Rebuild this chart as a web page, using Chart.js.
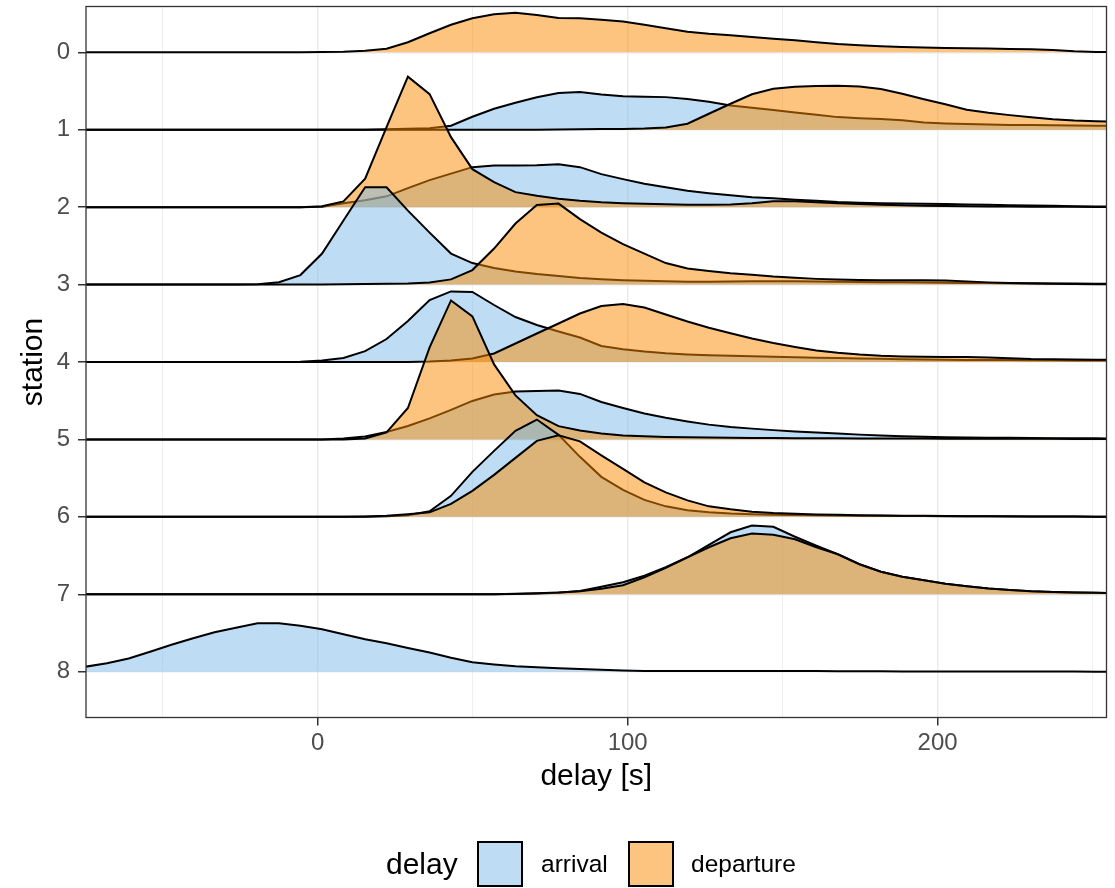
<!DOCTYPE html>
<html>
<head>
<meta charset="utf-8">
<title>delay ridges</title>
<script src="https://cdn.jsdelivr.net/npm/chart.js@4.4.1/dist/chart.umd.min.js"></script>
<style>
  body { margin: 0; background: #fff; }
  #wrap { position: relative; width: 1115px; height: 888px; font-family: "Liberation Sans", Arial, sans-serif; }
  #myChart { position: absolute; left: 0; top: 0; }
  .lg { position: absolute; top: 841px; height: 46px; line-height: 46px; white-space: nowrap; color: #000; }
  .lg-title { font-size: 30px; }
  .lg-text { font-size: 24.5px; }
  .lg-key { width: 46px; box-sizing: border-box; border: 2px solid #000; background: #fff; }
  .lg-key span { display: block; width: 100%; height: 100%; }
</style>
</head>
<body>
<div id="wrap">
  <canvas id="myChart" width="1115" height="888"></canvas>
  <div id="legend"></div>
</div>
<script>
// density grid (delay in s), shared by every ridge
var xGrid = [-74.9, -68.0, -61.0, -54.1, -47.2, -40.2, -33.3, -26.4, -19.4, -12.5, -5.6, 1.4, 8.3, 15.3, 22.2, 29.1, 36.1, 43.0, 49.9, 56.9, 63.8, 70.7, 77.7, 84.6, 91.5, 98.5, 105.4, 112.3, 119.3, 126.2, 133.2, 140.1, 147.0, 154.0, 160.9, 167.8, 174.8, 181.7, 188.6, 195.6, 202.5, 209.4, 216.4, 223.3, 230.2, 237.2, 244.1, 251.0, 258.0]

// relative density per station (arrival / departure)
var dep0 = [0, 0, 0, 0, 0, 0, 0, 0, 0, 0, 0, 0.3, 0.6, 1.5, 3.5, 10, 19, 27.5, 34, 38, 39.6, 37.3, 34.2, 34, 32.5, 30.8, 27.5, 24, 20.5, 18.5, 17, 15.2, 13.5, 12, 10, 8.2, 7, 6, 5.3, 4.8, 4.4, 4, 3.8, 3.3, 3, 2.2, 1, 0.3, 0.2]
var arr1 = [0, 0, 0, 0, 0, 0, 0, 0, 0, 0, 0, 0, 0, 0, 0.5, 1, 1.5, 4, 13, 21, 27, 32.5, 36.8, 37.7, 35.2, 33.5, 33, 32.6, 30.8, 28, 24.3, 22, 19.8, 17.2, 15, 12.6, 11.5, 10.8, 9.5, 7.3, 6.3, 5.7, 5.2, 4.8, 4.6, 4.4, 4.2, 4, 3.9]
var dep1 = [0, 0, 0, 0, 0, 0, 0, 0, 0, 0, 0, 0, 0, 0, 0, 0, 0, 0, 0, 0, 0, 0, 0.3, 0.5, 0.6, 0.8, 1.2, 2.2, 6, 16, 26, 35.5, 41, 43, 43.8, 44, 43.3, 40.8, 36, 30.5, 25.5, 20, 17, 14.6, 12.5, 10.5, 9.2, 8.5, 8]
var arr2 = [0, 0, 0, 0, 0, 0, 0, 0, 0, 0, 0, 0.5, 4, 7, 10.8, 19, 27, 33.5, 40, 41.6, 41.6, 42, 43, 40, 33, 28, 23.5, 19.8, 16.3, 14, 12, 10, 8.8, 7.5, 6.5, 5.2, 4.4, 4, 3.7, 3.4, 3.1, 2.7, 2.3, 2, 1.6, 1.3, 1, 0.7, 0.5]
var dep2 = [0, 0, 0, 0, 0, 0, 0, 0, 0, 0, 0, 0.8, 5.8, 28.5, 80, 130.5, 113, 70, 38, 25, 15, 11.5, 8.5, 6.5, 5, 4, 3.3, 2.8, 2.4, 2.3, 2.6, 4, 6, 6, 5, 4, 3.2, 2.4, 1.8, 1.4, 1.1, 0.9, 0.7, 0.6, 0.5, 0.4, 0.3, 0.2, 0.1]
var arr3 = [0, 0, 0, 0, 0, 0, 0, 0, 0.3, 2.3, 9.5, 31, 64, 97.3, 97.3, 74, 52, 31, 21.5, 16.5, 13, 10.5, 8.5, 6.5, 5.3, 4.4, 3.8, 3.2, 2.8, 2.8, 3, 3.3, 3.3, 3.2, 3, 2.8, 2.6, 2.4, 2.2, 2, 1.8, 1.6, 1.5, 1.3, 1.2, 1.1, 1, 0.9, 0.8]
var dep3 = [0, 0, 0, 0, 0, 0, 0, 0, 0, 0, 0, 0, 0.3, 0.5, 0.7, 1, 2, 5.2, 14.5, 36, 61, 79.5, 81, 65.5, 52, 40.5, 31, 21.5, 16, 13.5, 11.3, 9.8, 8, 6.8, 5.7, 5, 4.6, 4.3, 4.3, 4.3, 4, 3.2, 2.2, 1.6, 1, 0.7, 0.5, 0.4, 0.3]
var arr4 = [0, 0, 0, 0, 0, 0, 0, 0, 0, 0, 0.3, 1.5, 4, 10.8, 23, 41, 62, 70.6, 70, 57, 45, 37, 30.5, 24.5, 16, 12.8, 10.5, 8.8, 7.6, 6.8, 6.2, 5.8, 5.3, 4.8, 4.3, 4, 3.6, 3.2, 2.8, 2.5, 2.3, 2.1, 2, 1.9, 1.8, 1.7, 1.6, 1.5, 1.4]
var dep4 = [0, 0, 0, 0, 0, 0, 0, 0, 0, 0, 0, 0, 0, 0, 0, 0, 0.5, 1.5, 3.5, 8.5, 18.5, 28.5, 38.5, 48.5, 56, 58, 54.5, 47.5, 40.5, 34.2, 28.8, 23.5, 19, 15, 11.5, 9.2, 7.5, 6.3, 5.6, 5.3, 5.1, 5, 4.5, 3.7, 3, 2.8, 2.5, 2.3, 2.2]
var arr5 = [0, 0, 0, 0, 0, 0, 0, 0, 0, 0, 0, 0, 1, 3, 7.4, 13.5, 21, 29.5, 38.5, 45, 48, 48.5, 49, 45.5, 37.5, 31.5, 26, 21.7, 18, 14.8, 12.5, 10.8, 9.3, 8, 7, 6, 4.8, 4, 3.3, 2.7, 2.3, 2, 1.8, 1.6, 1.4, 1.3, 1.2, 1.1, 1]
var dep5 = [0, 0, 0, 0, 0, 0, 0, 0, 0, 0, 0, 0, 0, 1, 7, 31.4, 92, 139, 123, 75, 44, 24.3, 13.3, 9, 6, 4, 3.1, 2.5, 2.1, 1.9, 1.7, 1.5, 1.4, 1.3, 1.2, 1.1, 1, 1, 0.9, 0.9, 0.8, 0.8, 0.7, 0.7, 0.6, 0.6, 0.5, 0.5, 0.4]
var arr6 = [0, 0, 0, 0, 0, 0, 0, 0, 0, 0, 0, 0, 0, 0, 0.5, 1.5, 5.5, 21, 45, 66, 86, 97.3, 82, 60, 40, 27, 17, 10.5, 6.5, 4.5, 3.3, 2.7, 2.2, 1.9, 1.6, 1.4, 1.2, 1, 0.9, 0.8, 0.7, 0.6, 0.5, 0.4, 0.4, 0.3, 0.3, 0.2, 0.2]
var dep6 = [0, 0, 0, 0, 0, 0, 0, 0, 0, 0, 0, 0, 0, 0.3, 1, 2.5, 4.5, 13, 26, 42, 59, 76, 81.6, 75.5, 61.5, 48, 34.5, 24.5, 16.5, 10.5, 7.5, 5.2, 3.8, 3, 2.4, 2, 1.7, 1.4, 1.2, 1, 0.8, 0.7, 0.6, 0.5, 0.4, 0.3, 0.3, 0.2, 0.2]
var arr7 = [0, 0, 0, 0, 0, 0, 0, 0, 0, 0, 0, 0, 0, 0, 0, 0, 0, 0, 0, 0, 0.3, 0.7, 1.5, 3.3, 7.5, 12, 18.5, 27, 37, 49.5, 62, 68.8, 67.5, 57.5, 48.5, 40, 30, 22.5, 17.5, 14, 10.5, 8, 5.8, 4.2, 3, 2.4, 1.9, 1.5, 1.3]
var dep7 = [0, 0, 0, 0, 0, 0, 0, 0, 0, 0, 0, 0, 0, 0, 0, 0, 0, 0, 0, 0, 0.5, 1, 1.8, 3, 5.5, 9, 17, 26.5, 37, 47, 56, 60.8, 59.5, 55, 47, 40, 30, 22.5, 17.5, 14, 10.5, 8, 5.8, 4.2, 3, 2.4, 1.9, 1.5, 1.3]
var arr8 = [5, 8.5, 13.2, 20, 27, 33.5, 39.5, 44, 48.4, 48.4, 46, 42.5, 37.5, 32.5, 28.4, 23.8, 19.2, 14, 9.5, 7.3, 5.5, 4.5, 3.5, 2.6, 2, 1.2, 0.8, 0.6, 0.6, 0.6, 0.7, 0.8, 0.8, 0.7, 0.6, 0.5, 0.4, 0.4, 0.3, 0.3, 0.2, 0.2, 0.2, 0.1, 0.1, 0.1, 0.1, 0, 0]

var stationLabels = ["0", "1", "2", "3", "4", "5", "6", "7", "8"]
var arrivals = [null, arr1, arr2, arr3, arr4, arr5, arr6, arr7, arr8]
var departures = [dep0, dep1, dep2, dep3, dep4, dep5, dep6, dep7, null]
var delayTypes = ["arrival", "departure"]

var xTickValues = [-50, 0, 50, 100, 150, 200, 250]
var xLimits = [-74.77, 254.5]
var yLimits = [-0.5915, 8.5915]

var heightScale = 1 / 77.43   // density -> row heights
var fillColors = ["rgba(125, 187, 233, 0.5)", "rgba(252, 137, 0, 0.5)"]
var fontFamily = '"Liberation Sans", Arial, sans-serif'

main()

function main() {
  buildLegend()
  drawChart()
}


function ridge(station, dens, typeIndex) {
  return {
    label: delayTypes[typeIndex] + " " + station,
    data: xGrid.map(function (x, i) {
      return { x: x, y: station - dens[i] * heightScale }
    }),
    // fill down to the station's own baseline
    fill: { value: station },
    backgroundColor: fillColors[typeIndex],
    borderColor: "#000000",
    borderWidth: 2,
    pointRadius: 0,
    tension: 0,
    // upper stations are drawn first, arrival before departure
    order: 100 - station * 2 - typeIndex,
  }
}


function drawChart() {
  var datasets = []
  for (var s = 0; s < stationLabels.length; s++) {
    if (arrivals[s]) datasets.push(ridge(s, arrivals[s], 0))
    if (departures[s]) datasets.push(ridge(s, departures[s], 1))
  }

  var panelBorder = {
    id: "panelBorder",
    afterDatasetsDraw: function (chart) {
      var a = chart.chartArea
      var ctx = chart.ctx
      ctx.save()
      ctx.strokeStyle = "#333333"
      ctx.lineWidth = 1.3
      ctx.strokeRect(a.left, a.top, a.right - a.left, a.bottom - a.top)
      ctx.restore()
    }
  }

  Chart.defaults.font.family = fontFamily

  var ctx = document.getElementById("myChart")
  new Chart(ctx, {
    type: "line",
    data: { datasets: datasets },
    plugins: [panelBorder],
    options: {
      responsive: false,
      animation: false,
      devicePixelRatio: 1,
      layout: { padding: { left: 0, top: 6.5, right: 8.5, bottom: 90.5 } },
      plugins: {
        legend: { display: false },
        tooltip: { enabled: false },
      },
      scales: {
        x: {
          type: "linear",
          min: xLimits[0],
          max: xLimits[1],
          afterBuildTicks: function (scale) {
            scale.ticks = xTickValues.map(function (v) { return { value: v } })
          },
          afterFit: function (scale) {
            scale.height = 80
            scale.paddingLeft = 0
            scale.paddingRight = 0
          },
          border: { display: false },
          grid: {
            color: "#EBEBEB",
            lineWidth: function (c) { return c.tick && c.tick.value % 100 === 0 ? 1.5 : 0.8 },
            tickColor: function (c) { return c.tick && c.tick.value % 100 === 0 ? "#333333" : "rgba(0,0,0,0)" },
            tickLength: 8,
            tickWidth: 1.5,
          },
          ticks: {
            autoSkip: false,
            maxRotation: 0,
            padding: 3,
            color: "#4D4D4D",
            font: { size: 24 },
            callback: function (v) { return v % 100 === 0 ? String(v) : "" },
          },
          title: {
            display: true,
            text: "delay [s]",
            color: "#000000",
            font: { size: 30 },
            padding: { top: 0, bottom: 3 },
          },
        },
        y: {
          type: "linear",
          reverse: true,
          min: yLimits[0],
          max: yLimits[1],
          afterBuildTicks: function (scale) {
            scale.ticks = stationLabels.map(function (l, i) { return { value: i } })
          },
          afterFit: function (scale) {
            scale.width = 86
            // labels sit well inside the panel, no extra room needed
            scale.paddingTop = 0
            scale.paddingBottom = 0
          },
          border: { display: false },
          grid: {
            color: "#EBEBEB",
            lineWidth: 1.5,
            tickColor: "#333333",
            tickLength: 8,
            tickWidth: 1.5,
          },
          ticks: {
            autoSkip: false,
            padding: 8,
            color: "#4D4D4D",
            font: { size: 24 },
            callback: function (v) { return stationLabels[v] },
          },
          title: {
            display: true,
            text: "station",
            color: "#000000",
            font: { size: 30 },
            padding: { top: 16, bottom: 0 },
          },
        },
      },
    },
  })
}


function buildLegend() {
  var el = document.getElementById("legend")
  var keyLeft = [477, 628]
  var textLeft = [541, 691]
  var html = '<div class="lg lg-title" style="left:386px">delay</div>'
  for (var i in delayTypes) {
    html += '<div class="lg lg-key" style="left:' + keyLeft[i] + 'px"><span style="background:' + fillColors[i] + '"></span></div>'
    html += '<div class="lg lg-text" style="left:' + textLeft[i] + 'px">' + delayTypes[i] + '</div>'
  }
  el.innerHTML = html
}
</script>
</body>
</html>
